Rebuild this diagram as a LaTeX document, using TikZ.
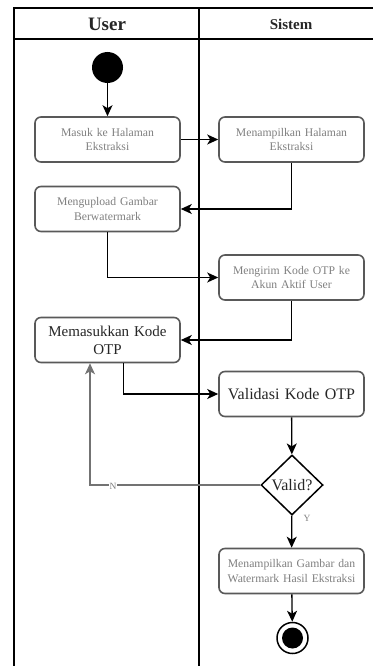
\documentclass[tikz,border=0pt]{standalone}
\usepackage{fontspec}
\setmainfont{Liberation Serif}
\usetikzlibrary{arrows.meta,shapes.geometric,calc}

\tikzset{
  lane/.style={line width=1.4pt, draw=black},
  act/.style={draw=black!65, line width=1.6pt, rounded corners=6pt, fill=white,
    minimum width=145pt, minimum height=45pt, align=center, text width=140pt,
    inner sep=2pt},
  smalltext/.style={font=\fontsize{11.7}{14.5}\selectfont, text=black!50},
  bigtext/.style={font=\fontsize{15}{18}\selectfont, text=black!85},
  flow/.style={line width=1.3pt, draw=black,
    -{Stealth[length=11pt,width=10pt,inset=3pt]}},
  back/.style={flow, draw=black!55},
  guard/.style={font=\fontsize{9.5}{10}\selectfont, text=black!50, inner sep=1pt},
  decision/.style={diamond, draw=black, line width=1.5pt, fill=white,
    minimum width=62pt, minimum height=60pt, inner sep=0pt,
    font=\fontsize{16}{18}\selectfont, text=black!85},
  startdot/.style={circle, fill=black, minimum size=31pt, inner sep=0pt},
  enddot/.style={circle, draw=black, line width=1.5pt, fill=white,
    minimum size=31pt, inner sep=0pt},
  head/.style={text=black!85}
}

\begin{document}
\begin{tikzpicture}[x=1pt,y=-1pt]
  \useasboundingbox (0,0) rectangle (373,666);

  % swimlane frame
  \draw[lane] (14,666) -- (14,8) -- (373,8);
  \draw[lane] (14,39) -- (373,39);
  \draw[lane] (199,8) -- (199,666);
  \node[head, font=\bfseries\fontsize{19}{20}\selectfont] (hUser) at (107,24) {User};
  \node[head, font=\bfseries\fontsize{15}{18}\selectfont] (hSistem) at (291,24) {Sistem};

  % activities
  \node[startdot] (start) at (107.5,67.5) {};
  \node[act, smalltext] (b1) at (107.5,139.5) {Masuk ke Halaman\\Ekstraksi};
  \node[act, smalltext] (b2) at (291.5,139.5) {Menampilkan Halaman\\Ekstraksi};
  \node[act, smalltext] (b3) at (107.5,209) {Mengupload Gambar\\Berwatermark};
  \node[act, smalltext] (b4) at (291.5,277.5) {Mengirim Kode OTP ke\\Akun Aktif User};
  \node[act, bigtext] (b5) at (107.5,340) {Memasukkan Kode\\OTP};
  \node[act, font=\fontsize{16}{18}\selectfont, text=black!85] (b6) at (291.5,394) {Validasi Kode OTP};
  \node[decision] (dec) at (292,485) {Valid?};
  \node[act, smalltext] (b7) at (291.5,571) {Menampilkan Gambar dan\\Watermark Hasil Ekstraksi};
  \node[enddot] (stop) at (292.5,638) {};
  \fill[black] (stop.center) circle (10.5pt);

  % control flow
  \draw[flow] (start) -- (b1);
  \draw[flow] (b1) -- (b2);
  \draw[flow] (b2) |- (b3);
  \draw[flow] (b3) |- (b4);
  \draw[flow] (b4) |- (b5);
  \draw[flow] ([xshift=16pt]b5.south) |- (b6);
  \draw[flow] (b6) -- (dec);
  \draw[back] (dec.west) -| ([xshift=-17.5pt]b5.south);
  \node[guard, fill=white] (lblN) at (113,486) {N};
  \draw[flow] (dec) -- (b7);
  \node[guard] (lblY) at (307,518) {Y};
  \draw[flow] (b7) -- (stop);
\end{tikzpicture}
\end{document}
